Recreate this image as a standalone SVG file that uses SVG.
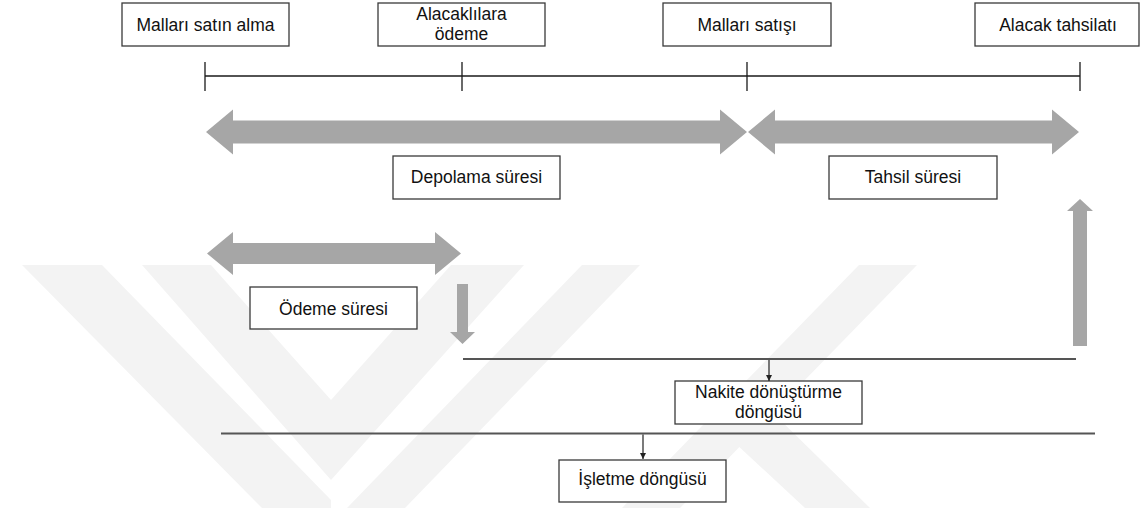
<svg xmlns="http://www.w3.org/2000/svg" width="1141" height="508" viewBox="0 0 1141 508">
<style>
  .box { fill: #ffffff; stroke: #3a3a3a; stroke-width: 1.3; }
  .lbl { font-family: "Liberation Sans", Arial, sans-serif; font-size: 17.5px; fill: #111; text-anchor: middle; }
  .garrow { fill: #a6a6a6; }
  .tl { stroke: #1a1a1a; stroke-width: 1.3; fill: none; }
  .conn { stroke: #555555; stroke-width: 2; fill: none; }
  .thin { stroke: #222; stroke-width: 1.2; fill: none; }
  .wm { fill: #f3f3f3; }
</style>
<defs>
  <marker id="ah" viewBox="0 0 10 10" refX="10" refY="5" markerWidth="6" markerHeight="6" markerUnits="userSpaceOnUse" orient="auto">
    <path d="M0,0 L10,5 L0,10 z" fill="#222"/>
  </marker>
</defs>
<rect width="1141" height="508" fill="#ffffff"/>
<g id="watermark">
  <polygon class="wm" points="22,265 102,265 331,500 331,508 262,508"/>
  <polygon class="wm" points="142,265 211,265 331,400 451,265 524,265 331,480"/>
  <polygon class="wm" points="582,265 640,265 405,508 347,508"/>
  <polygon class="wm" points="859,265 917,265 680,508 622,508"/>
  <polygon class="wm" points="735,443 770,410 870,508 805,508"/>
</g>
<g id="timeline">
  <line class="tl" x1="205" y1="76" x2="1080" y2="76"/>
  <line class="tl" x1="205" y1="62" x2="205" y2="91"/>
  <line class="tl" x1="462" y1="62" x2="462" y2="91"/>
  <line class="tl" x1="747" y1="62" x2="747" y2="91"/>
  <line class="tl" x1="1080" y1="62" x2="1080" y2="91"/>
</g>
<g id="n-satin-alma">
  <rect class="box" x="122" y="3" width="167" height="43"/>
  <text class="lbl" x="205.5" y="31">Malları satın alma</text>
</g>
<g id="n-alacaklilara">
  <rect class="box" x="378" y="3" width="167" height="43"/>
  <text class="lbl" x="461.5" y="20">Alacaklılara</text>
  <text class="lbl" x="461.5" y="39.5">ödeme</text>
</g>
<g id="n-satisi">
  <rect class="box" x="663" y="3" width="168" height="43"/>
  <text class="lbl" x="747" y="31">Malları satışı</text>
</g>
<g id="n-tahsilat">
  <rect class="box" x="975" y="3" width="164" height="43"/>
  <text class="lbl" x="1058" y="31">Alacak tahsilatı</text>
</g>
<g id="n-depolama">
  <rect class="box" x="393" y="156" width="167" height="43"/>
  <text class="lbl" x="476.5" y="183">Depolama süresi</text>
</g>
<g id="n-tahsil">
  <rect class="box" x="829" y="156" width="168" height="43"/>
  <text class="lbl" x="913" y="183">Tahsil süresi</text>
</g>
<g id="n-odeme">
  <rect class="box" x="250" y="287" width="167" height="42"/>
  <text class="lbl" x="333.5" y="315">Ödeme süresi</text>
</g>
<g id="n-nakite">
  <rect class="box" x="675" y="381" width="187" height="43"/>
  <text class="lbl" x="768.5" y="398">Nakite dönüştürme</text>
  <text class="lbl" x="768.5" y="417.5">döngüsü</text>
</g>
<g id="n-isletme">
  <rect class="box" x="559" y="460" width="167" height="42"/>
  <text class="lbl" x="642.5" y="485">İşletme döngüsü</text>
</g>
<g id="connectors">
  <polygon class="garrow" points="206,132 233,109.5 233,120.5 720,120.5 720,109.5 747,132 720,154.5 720,143.5 233,143.5 233,154.5"/>
  <polygon class="garrow" points="748,132 775,109.5 775,120.5 1052,120.5 1052,109.5 1079,132 1052,154.5 1052,143.5 775,143.5 775,154.5"/>
  <polygon class="garrow" points="207,253.5 233,232 233,243 435,243 435,232 461,253.5 435,275 435,264 233,264 233,275"/>
  <polygon class="garrow" points="457,284 468,284 468,332 475,332 462.5,344 450,332 457,332"/>
  <polygon class="garrow" points="1080,199 1093,211 1087,211 1087,346 1073,346 1073,211 1067,211"/>
  <line class="conn" x1="463" y1="359" x2="1076" y2="359"/>
  <line class="thin" x1="769" y1="360" x2="769" y2="381" marker-end="url(#ah)"/>
  <line class="conn" x1="221" y1="433.5" x2="1095" y2="433.5"/>
  <line class="thin" x1="643" y1="434.5" x2="643" y2="459" marker-end="url(#ah)"/>
</g>
</svg>
